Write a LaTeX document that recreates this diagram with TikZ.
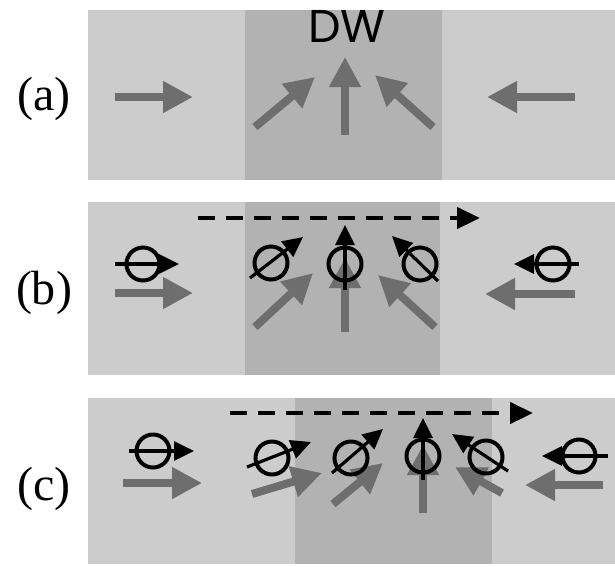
\documentclass[tikz,border=0pt]{standalone}
\usepackage{fontspec}
\setmainfont{Liberation Serif}
\newfontfamily\dwfont{Poppins}
\usetikzlibrary{arrows.meta}
\definecolor{bglight}{gray}{0.80}
\definecolor{bgdark}{gray}{0.70}
\definecolor{magnet}{gray}{0.43}
\tikzset{
  panel/.style={fill=bglight, draw=none},
  wall/.style={fill=bgdark, draw=none},
  moment/.style={draw=magnet, line width=8pt, -{Triangle[length=30pt,width=30pt]}},
  spin/.style={circle, draw=black, line width=4pt, minimum size=33pt, inner sep=0pt},
  spinarrow/.style={draw=black, line width=3.2pt, -{Triangle[length=20pt,width=19pt]}},
  motion/.style={draw=black, line width=4.5pt, dash pattern=on 17pt off 11pt, -{Triangle[length=23pt,width=21pt]}},
  tag/.style={font=\fontsize{48}{48}\selectfont, inner sep=0pt},
}
\begin{document}
\begin{tikzpicture}[x=1pt,y=-1pt]
\useasboundingbox (0,0) rectangle (615,566);

% panel backgrounds with the darker domain-wall region
\fill[panel] (88,10) rectangle (615,180);
\fill[wall] (245,10) rectangle (442,180);
\fill[panel] (88,202) rectangle (615,375);
\fill[wall] (245,202) rectangle (440,375);
\fill[panel] (88,398) rectangle (615,564);
\fill[wall] (295,398) rectangle (492,564);

% labels
\node[tag] (la) at (44,99) {(a)};
\node[tag] (lb) at (44,293) {(b)};
\node[tag] (lc) at (44,489) {(c)};
\node[font=\dwfont\fontsize{46}{46}\selectfont, inner sep=0pt] (dw) at (347,26) {DW};

% ---- (a) magnetization across the wall
\coordinate (a1s) at (115,97);  \coordinate (a1e) at (193,97);
\coordinate (a2s) at (255,127); \coordinate (a2e) at (315,77);
\coordinate (a3s) at (345,135); \coordinate (a3e) at (345,57);
\coordinate (a4s) at (433,127); \coordinate (a4e) at (375,75);
\coordinate (a5s) at (575,97);  \coordinate (a5e) at (487,97);
\foreach \i in {1,...,5} \draw[moment] (a\i s) -- (a\i e);

% ---- (b) spins and magnetization, wall moving right
\coordinate (b1s) at (115,293); \coordinate (b1e) at (193,293);
\coordinate (b2s) at (255,327); \coordinate (b2e) at (313,273);
\coordinate (b3s) at (345,332); \coordinate (b3e) at (345,258);
\coordinate (b4s) at (435,327); \coordinate (b4e) at (378,275);
\coordinate (b5s) at (575,294); \coordinate (b5e) at (485,294);
\foreach \i in {1,...,5} \draw[moment] (b\i s) -- (b\i e);

\node[spin] (sb1) at (143,264) {};
\node[spin] (sb2) at (271,263) {};
\node[spin] (sb3) at (345,264) {};
\node[spin] (sb4) at (420,264) {};
\node[spin] (sb5) at (553,264) {};

\coordinate (p1s) at (115,264); \coordinate (p1e) at (179,264);
\coordinate (p2s) at (250,278); \coordinate (p2e) at (303,237);
\coordinate (p3s) at (345,290); \coordinate (p3e) at (345,225);
\coordinate (p4s) at (438,281); \coordinate (p4e) at (392,236);
\coordinate (p5s) at (579,264); \coordinate (p5e) at (514,264);
\foreach \i in {1,...,5} \draw[spinarrow] (p\i s) -- (p\i e);

\coordinate (mbs) at (198,218); \coordinate (mbe) at (480,218);
\draw[motion] (mbs) -- (mbe);

% ---- (c) spins and magnetization, wall displaced
\coordinate (c1s) at (123,483); \coordinate (c1e) at (202,483);
\coordinate (c2s) at (252,494); \coordinate (c2e) at (322,473);
\coordinate (c3s) at (333,504); \coordinate (c3e) at (383,463);
\coordinate (c4s) at (423,513); \coordinate (c4e) at (423,445);
\coordinate (c5s) at (502,493); \coordinate (c5e) at (455,467);
\coordinate (c6s) at (603,485); \coordinate (c6e) at (525,485);
\foreach \i in {1,...,6} \draw[moment] (c\i s) -- (c\i e);

\node[spin] (sc1) at (153,451) {};
\node[spin] (sc2) at (272,458) {};
\node[spin] (sc3) at (351,458) {};
\node[spin] (sc4) at (423,456) {};
\node[spin] (sc5) at (486,457) {};
\node[spin] (sc6) at (579,456) {};

\coordinate (q1s) at (129,451); \coordinate (q1e) at (194,451);
\coordinate (q2s) at (247,467); \coordinate (q2e) at (311,442);
\coordinate (q3s) at (332,473); \coordinate (q3e) at (383,429);
\coordinate (q4s) at (423,480); \coordinate (q4e) at (423,418);
\coordinate (q5s) at (508,471); \coordinate (q5e) at (452,434);
\coordinate (q6s) at (608,456); \coordinate (q6e) at (542,456);
\foreach \i in {1,...,6} \draw[spinarrow] (q\i s) -- (q\i e);

\coordinate (mcs) at (230,413); \coordinate (mce) at (533,413);
\draw[motion] (mcs) -- (mce);
\end{tikzpicture}
\end{document}
